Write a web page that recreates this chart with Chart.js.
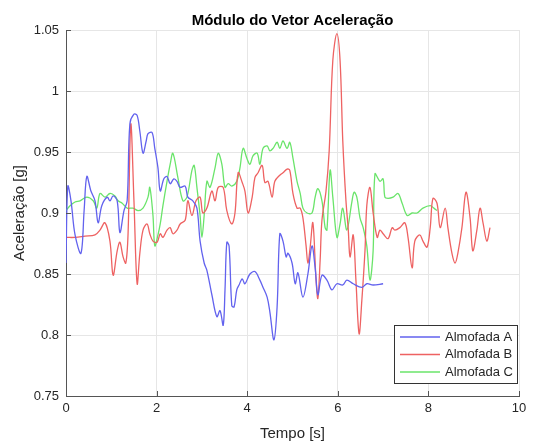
<!DOCTYPE html>
<html>
<head>
<meta charset="utf-8">
<title>Módulo do Vetor Aceleração</title>
<script src="https://cdn.jsdelivr.net/npm/chart.js@4/dist/chart.umd.min.js"></script>
<style>
  html, body { margin: 0; padding: 0; background: #fff; }
</style>
</head>
<body>
<canvas id="accelChart" width="536" height="443"></canvas>
<script>
// Almofada A
const tA = [0, 0.04, 0.11, 0.20, 0.33, 0.40, 0.46, 0.55, 0.64, 0.71, 0.79, 0.91, 0.97, 1.04, 1.13, 1.19, 1.28, 1.35,
  1.41, 1.50, 1.57, 1.63, 1.70, 1.77, 1.81, 1.90, 1.96, 2.03, 2.08, 2.16, 2.23, 2.30, 2.38, 2.45, 2.52, 2.63, 2.69,
  2.80, 2.89, 2.96, 3.05, 3.11, 3.22, 3.33, 3.40, 3.47, 3.51, 3.55, 3.60, 3.66, 3.71, 3.77, 3.82, 3.89, 3.95, 4.06,
  4.17, 4.28, 4.35, 4.44, 4.50, 4.59, 4.66, 4.72, 4.79, 4.86, 4.90, 4.99, 5.06, 5.12, 5.23, 5.34, 5.43, 5.50, 5.56,
  5.65, 5.76, 5.87, 5.98, 6.11, 6.20, 6.34, 6.53, 6.64, 6.78, 7.00];
const vA = [0.859, 0.922, 0.910, 0.882, 0.867, 0.902, 0.930, 0.918, 0.910, 0.892, 0.906, 0.913, 0.910, 0.914, 0.910, 0.884, 0.902, 0.910,
  0.973, 0.981, 0.980, 0.967, 0.949, 0.959, 0.965, 0.966, 0.953, 0.937, 0.918, 0.928, 0.930, 0.924, 0.928, 0.926, 0.921, 0.922, 0.913,
  0.910, 0.904, 0.877, 0.859, 0.853, 0.833, 0.815, 0.820, 0.808, 0.837, 0.876, 0.873, 0.824, 0.823, 0.837, 0.841, 0.846, 0.842, 0.850,
  0.852, 0.845, 0.839, 0.831, 0.819, 0.796, 0.823, 0.883, 0.877, 0.864, 0.867, 0.859, 0.842, 0.851, 0.831, 0.850, 0.873, 0.855, 0.833,
  0.849, 0.845, 0.837, 0.842, 0.841, 0.845, 0.842, 0.839, 0.842, 0.841, 0.842];

// Almofada B
const tB = [0, 0.20, 0.42, 0.64, 0.75, 0.86, 0.97, 1.04, 1.13, 1.19, 1.26, 1.32, 1.37, 1.43, 1.50, 1.57, 1.63, 1.70,
  1.79, 1.85, 1.92, 2.01, 2.08, 2.14, 2.23, 2.30, 2.36, 2.45, 2.52, 2.63, 2.69, 2.78, 2.87, 2.96, 3.02, 3.11, 3.22,
  3.29, 3.36, 3.47, 3.55, 3.66, 3.73, 3.80, 3.89, 3.95, 4.02, 4.11, 4.17, 4.24, 4.33, 4.39, 4.46, 4.55, 4.61, 4.72,
  4.79, 4.88, 4.94, 5.01, 5.10, 5.17, 5.23, 5.30, 5.34, 5.39, 5.45, 5.52, 5.56, 5.61, 5.65, 5.74, 5.81, 5.89, 5.98,
  6.05, 6.11, 6.18, 6.23, 6.27, 6.34, 6.40, 6.47, 6.53, 6.60, 6.64, 6.71, 6.78, 6.87, 6.93, 7.00, 7.11, 7.20, 7.26,
  7.37, 7.48, 7.55, 7.64, 7.70, 7.81, 7.88, 7.97, 8.04, 8.10, 8.19, 8.26, 8.37, 8.43, 8.52, 8.59, 8.65, 8.74, 8.83,
  8.92, 8.98, 9.07, 9.14, 9.21, 9.29, 9.36];
const vB = [0.880, 0.880, 0.881, 0.882, 0.886, 0.892, 0.877, 0.849, 0.869, 0.876, 0.864, 0.859, 0.883, 0.973, 0.910, 0.842, 0.867, 0.886,
  0.891, 0.883, 0.877, 0.876, 0.883, 0.880, 0.886, 0.888, 0.883, 0.886, 0.891, 0.894, 0.910, 0.898, 0.910, 0.913, 0.900, 0.904, 0.918,
  0.910, 0.921, 0.921, 0.902, 0.891, 0.900, 0.933, 0.925, 0.918, 0.900, 0.913, 0.929, 0.933, 0.939, 0.925, 0.926, 0.913, 0.926, 0.931,
  0.933, 0.936, 0.935, 0.916, 0.904, 0.904, 0.896, 0.873, 0.859, 0.872, 0.892, 0.845, 0.830, 0.861, 0.894, 0.918, 0.951, 1.025, 1.047,
  1.025, 0.959, 0.910, 0.887, 0.864, 0.882, 0.845, 0.801, 0.828, 0.869, 0.906, 0.921, 0.900, 0.880, 0.886, 0.883, 0.879, 0.888, 0.886,
  0.888, 0.892, 0.880, 0.855, 0.877, 0.882, 0.877, 0.872, 0.888, 0.912, 0.908, 0.888, 0.904, 0.888, 0.867, 0.859, 0.867, 0.888, 0.917,
  0.896, 0.869, 0.886, 0.904, 0.891, 0.877, 0.888];

// Almofada C
const tC = [0, 0.09, 0.20, 0.31, 0.46, 0.60, 0.68, 0.75, 0.86, 0.97, 1.08, 1.15, 1.24, 1.35, 1.48, 1.59, 1.70, 1.81,
  1.85, 1.92, 1.96, 2.03, 2.08, 2.14, 2.23, 2.30, 2.36, 2.47, 2.58, 2.67, 2.78, 2.83, 2.89, 2.96, 3.00, 3.05, 3.11,
  3.18, 3.29, 3.36, 3.44, 3.51, 3.58, 3.66, 3.77, 3.84, 3.91, 4.00, 4.06, 4.13, 4.22, 4.28, 4.35, 4.44, 4.50, 4.57,
  4.66, 4.72, 4.79, 4.88, 4.94, 5.01, 5.10, 5.17, 5.23, 5.32, 5.43, 5.50, 5.56, 5.65, 5.72, 5.76, 5.83, 5.89, 5.98,
  6.05, 6.11, 6.20, 6.31, 6.36, 6.42, 6.49, 6.56, 6.64, 6.71, 6.78, 6.82, 6.93, 7.00, 7.04, 7.11, 7.22, 7.33, 7.42,
  7.53, 7.64, 7.75, 7.88, 8.04, 8.12, 8.19];
const vC = [0.902, 0.906, 0.909, 0.910, 0.913, 0.910, 0.904, 0.916, 0.913, 0.916, 0.914, 0.910, 0.908, 0.904, 0.904, 0.902, 0.904, 0.913,
  0.921, 0.898, 0.873, 0.882, 0.891, 0.906, 0.926, 0.940, 0.949, 0.929, 0.910, 0.913, 0.935, 0.939, 0.921, 0.898, 0.880, 0.898, 0.926,
  0.921, 0.937, 0.949, 0.940, 0.921, 0.924, 0.922, 0.926, 0.937, 0.953, 0.944, 0.940, 0.947, 0.949, 0.940, 0.953, 0.955, 0.951, 0.953,
  0.958, 0.953, 0.959, 0.953, 0.958, 0.945, 0.926, 0.916, 0.904, 0.900, 0.900, 0.913, 0.920, 0.910, 0.888, 0.886, 0.935, 0.913, 0.880,
  0.891, 0.904, 0.886, 0.909, 0.917, 0.913, 0.896, 0.888, 0.873, 0.845, 0.869, 0.932, 0.926, 0.928, 0.913, 0.912, 0.913, 0.916, 0.908,
  0.898, 0.900, 0.900, 0.904, 0.906, 0.904, 0.902];

const seriesNames = ['Almofada A', 'Almofada B', 'Almofada C'];
const xTicks = [0, 2, 4, 6, 8, 10];
const yTicks = [0.75, 0.8, 0.85, 0.9, 0.95, 1, 1.05];

const FONT = '"Liberation Sans", Arial, sans-serif';
const TEXT = '#262626';

function pts(t, v) {
  return t.map((x, i) => ({ x: x, y: v[i] }));
}

// legend box drawn inside the axes, lower right corner
const boxLegend = {
  id: 'boxLegend',
  afterDraw(chart) {
    const ctx = chart.ctx;
    const a = chart.chartArea;
    const w = 123, h = 58;
    const x = a.right - 125, y = a.bottom - 71;
    ctx.save();
    ctx.fillStyle = '#fff';
    ctx.fillRect(x, y, w, h);
    ctx.strokeStyle = '#333';
    ctx.lineWidth = 1;
    ctx.strokeRect(x + 0.5, y + 0.5, w, h);
    ctx.font = '13px ' + FONT;
    ctx.textBaseline = 'middle';
    ctx.fillStyle = TEXT;
    chart.data.datasets.forEach((ds, i) => {
      const ry = y + 12 + i * 17.5;
      ctx.strokeStyle = ds.borderColor;
      ctx.lineWidth = 1.4;
      ctx.beginPath();
      ctx.moveTo(x + 6, ry);
      ctx.lineTo(x + 46, ry);
      ctx.stroke();
      ctx.fillText(ds.label, x + 51, ry);
    });
    ctx.restore();
  }
};

// short tick marks pointing into the plot
const innerTicks = {
  id: 'innerTicks',
  afterDatasetsDraw(chart) {
    const ctx = chart.ctx;
    const a = chart.chartArea;
    const xs = chart.scales.x, ys = chart.scales.y;
    ctx.save();
    ctx.strokeStyle = '#555';
    ctx.lineWidth = 1;
    ctx.beginPath();
    xTicks.forEach(v => {
      const px = Math.round(xs.getPixelForValue(v)) + 0.5;
      ctx.moveTo(px, a.bottom);
      ctx.lineTo(px, a.bottom - 5);
    });
    yTicks.forEach(v => {
      const py = Math.round(ys.getPixelForValue(v)) + 0.5;
      ctx.moveTo(a.left, py);
      ctx.lineTo(a.left + 5, py);
    });
    ctx.stroke();
    ctx.restore();
  }
};

const lineStyle = {
  pointRadius: 0,
  borderWidth: 1.3,
  tension: 0.35,
  fill: false
};

new Chart(document.getElementById('accelChart'), {
  type: 'line',
  data: {
    datasets: [
      Object.assign({ label: seriesNames[0], data: pts(tA, vA), borderColor: '#6262ee' }, lineStyle),
      Object.assign({ label: seriesNames[1], data: pts(tB, vB), borderColor: '#ee6262' }, lineStyle),
      Object.assign({ label: seriesNames[2], data: pts(tC, vC), borderColor: '#6ae46a' }, lineStyle)
    ]
  },
  options: {
    responsive: false,
    animation: false,
    layout: { padding: { left: 0, right: 17, top: 0, bottom: 0 } },
    plugins: {
      legend: { display: false },
      tooltip: { enabled: false },
      title: {
        display: true,
        fullSize: false,
        text: 'Módulo do Vetor Aceleração',
        color: '#000',
        font: { family: FONT, size: 15, weight: 'bold' },
        padding: { top: 12, bottom: 0 }
      }
    },
    scales: {
      x: {
        type: 'linear',
        min: 0,
        max: 10,
        afterFit(s) { s.height = 47; },
        afterBuildTicks(s) { s.ticks = xTicks.map(v => ({ value: v })); },
        ticks: { color: TEXT, padding: 5, font: { family: FONT, size: 13 } },
        grid: { color: '#e6e6e6', drawTicks: false },
        border: { color: '#555' },
        title: {
          display: true,
          text: 'Tempo [s]',
          color: TEXT,
          font: { family: FONT, size: 15 },
          padding: { top: 2, bottom: 0 }
        }
      },
      y: {
        type: 'linear',
        min: 0.75,
        max: 1.05,
        afterFit(s) { s.width = 66; },
        afterBuildTicks(s) { s.ticks = yTicks.map(v => ({ value: v })); },
        ticks: {
          color: TEXT,
          padding: 7,
          font: { family: FONT, size: 13 },
          callback: v => String(Number(v.toFixed(2)))
        },
        grid: { color: '#e6e6e6', drawTicks: false },
        border: { color: '#555' },
        title: {
          display: true,
          text: 'Aceleração [g]',
          color: TEXT,
          font: { family: FONT, size: 15 },
          padding: { top: 11, bottom: 0 }
        }
      }
    }
  },
  plugins: [innerTicks, boxLegend]
});
</script>
</body>
</html>
